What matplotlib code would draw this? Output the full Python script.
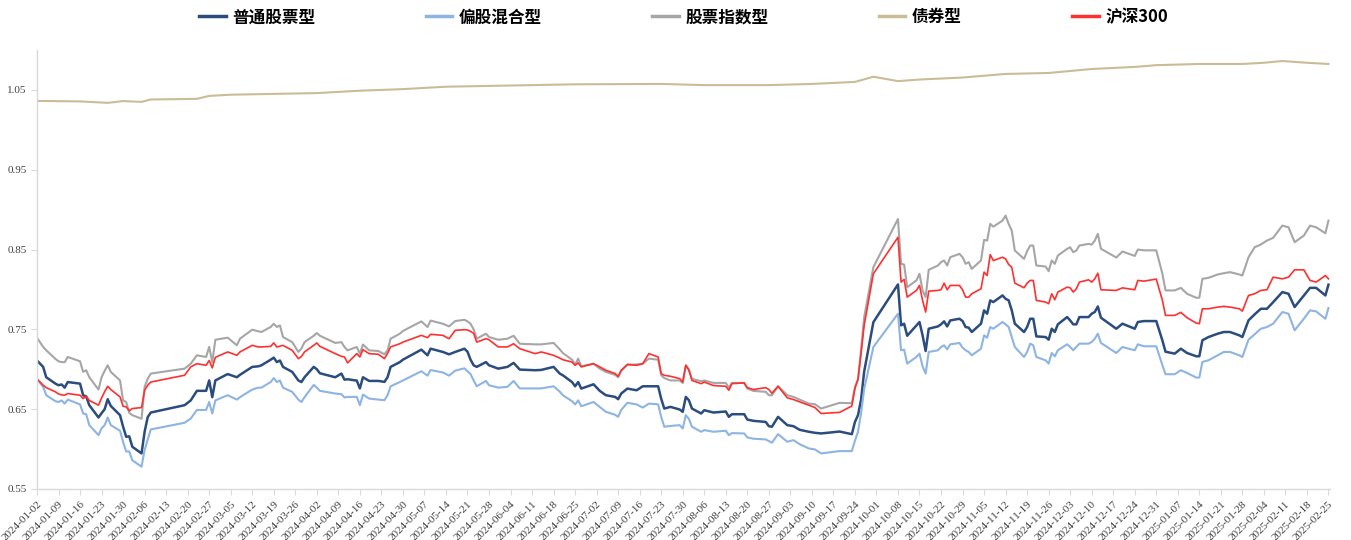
import matplotlib
matplotlib.use("Agg")
import matplotlib.pyplot as plt
import matplotlib.dates as mdates
import pandas as pd

plt.rcParams['font.family'] = ['Noto Sans CJK SC', 'DejaVu Sans']

# trading dates sampled for the four equity-style series
dates = [
    # 2024-01
    "2024-01-02", "2024-01-04", "2024-01-05", "2024-01-08", "2024-01-09", "2024-01-10", "2024-01-11",
    "2024-01-12", "2024-01-16", "2024-01-17", "2024-01-18", "2024-01-19", "2024-01-22", "2024-01-23",
    "2024-01-24", "2024-01-25", "2024-01-26", "2024-01-29", "2024-01-30", "2024-01-31",
    # 2024-02
    "2024-02-01", "2024-02-02", "2024-02-05", "2024-02-06", "2024-02-07", "2024-02-08", "2024-02-19",
    "2024-02-21", "2024-02-23", "2024-02-26", "2024-02-27", "2024-02-28", "2024-02-29",
    # 2024-03
    "2024-03-04", "2024-03-07", "2024-03-08", "2024-03-12", "2024-03-14", "2024-03-15", "2024-03-18",
    "2024-03-19", "2024-03-20", "2024-03-21", "2024-03-22", "2024-03-25", "2024-03-27", "2024-03-28",
    "2024-03-29",
    # 2024-04
    "2024-04-01", "2024-04-02", "2024-04-03", "2024-04-08", "2024-04-10", "2024-04-11", "2024-04-12",
    "2024-04-15", "2024-04-16", "2024-04-17", "2024-04-19", "2024-04-22", "2024-04-24", "2024-04-25",
    "2024-04-26", "2024-04-29", "2024-04-30",
    # 2024-05
    "2024-05-06", "2024-05-08", "2024-05-09", "2024-05-13", "2024-05-15", "2024-05-17", "2024-05-20",
    "2024-05-21", "2024-05-22", "2024-05-23", "2024-05-24", "2024-05-27", "2024-05-28", "2024-05-31",
    # 2024-06
    "2024-06-03", "2024-06-05", "2024-06-07", "2024-06-12", "2024-06-14", "2024-06-18", "2024-06-20",
    "2024-06-21", "2024-06-24", "2024-06-25", "2024-06-26", "2024-06-27",
    # 2024-07
    "2024-07-01", "2024-07-03", "2024-07-05", "2024-07-08", "2024-07-09", "2024-07-10", "2024-07-12",
    "2024-07-15", "2024-07-17", "2024-07-19", "2024-07-22", "2024-07-23", "2024-07-24", "2024-07-26",
    "2024-07-29", "2024-07-30", "2024-07-31",
    # 2024-08
    "2024-08-01", "2024-08-02", "2024-08-05", "2024-08-06", "2024-08-09", "2024-08-13", "2024-08-14",
    "2024-08-15", "2024-08-19", "2024-08-20", "2024-08-22", "2024-08-26", "2024-08-27", "2024-08-28",
    "2024-08-30",
    # 2024-09
    "2024-09-02", "2024-09-04", "2024-09-06", "2024-09-09", "2024-09-11", "2024-09-13", "2024-09-19",
    "2024-09-23", "2024-09-24", "2024-09-25", "2024-09-26", "2024-09-27", "2024-09-30",
    # 2024-10
    "2024-10-08", "2024-10-09", "2024-10-10", "2024-10-11", "2024-10-14", "2024-10-15", "2024-10-16",
    "2024-10-17", "2024-10-18", "2024-10-21", "2024-10-22", "2024-10-23", "2024-10-24", "2024-10-25",
    "2024-10-28", "2024-10-29", "2024-10-30", "2024-10-31",
    # 2024-11
    "2024-11-01", "2024-11-04", "2024-11-05", "2024-11-06", "2024-11-07", "2024-11-08", "2024-11-11",
    "2024-11-12", "2024-11-13", "2024-11-14", "2024-11-15", "2024-11-18", "2024-11-19", "2024-11-20",
    "2024-11-21", "2024-11-22", "2024-11-25", "2024-11-26", "2024-11-27", "2024-11-28", "2024-11-29",
    # 2024-12
    "2024-12-02", "2024-12-03", "2024-12-04", "2024-12-05", "2024-12-06", "2024-12-09", "2024-12-10",
    "2024-12-11", "2024-12-12", "2024-12-13", "2024-12-18", "2024-12-20", "2024-12-24", "2024-12-25",
    "2024-12-27", "2024-12-31",
    # 2025-01
    "2025-01-02", "2025-01-03", "2025-01-06", "2025-01-08", "2025-01-10", "2025-01-13", "2025-01-14",
    "2025-01-15", "2025-01-17", "2025-01-20", "2025-01-22", "2025-01-24", "2025-01-27", "2025-01-28",
    "2025-01-30",
    # 2025-02
    "2025-02-01", "2025-02-03", "2025-02-05", "2025-02-07", "2025-02-10", "2025-02-12", "2025-02-14",
    "2025-02-17", "2025-02-19", "2025-02-21", "2025-02-24", "2025-02-25",
]

# 普通股票型
stock_fund = [
    .711, .703, .690, .682, .680, .681, .677, .684, .682, .6675, .666, .655, .6396, .645, .650, .6625, .654, .6425, .628, .6154,
    .616, .6029, .5946, .6217, .640, .6458, .655, .661, .673, .673, .686, .665, .686,
    .694, .690, .693, .703, .7037, .705, .712, .7146, .709, .711, .703, .6967, .686, .684, .690,
    .703, .700, .695, .690, .6946, .687, .6875, .6858, .676, .690, .6854, .6854, .6842, .690, .703, .709, .712,
    .7246, .7175, .7258, .7217, .7187, .7217, .7258, .722, .712, .705, .703, .709, .705, .7008,
    .703, .708, .6996, .6988, .6992, .703, .6946, .6925, .684, .6787, .684, .6758,
    .6812, .673, .6675, .6654, .6625, .6696, .6758, .6737, .6787, .6787, .6787, .663, .6508, .6529, .6496, .6467, .6654,
    .6612, .6508, .6446, .6487, .6458, .6471, .6404, .6437, .6437, .637, .6354, .634, .6287, .628, .6404,
    .630, .6287, .6242, .6217, .6204, .6196, .622, .6187, .634, .6425, .662, .697, .759,
    .8063, .755, .7571, .742, .755, .7592, .7425, .7229, .7508, .7537, .7563, .760, .7537, .7612, .7633, .7604, .7529, .7521,
    .7467, .7571, .7738, .7696, .7863, .7842, .7925, .7883, .7863, .7738, .7571, .7467, .7529, .7633, .7633, .7412, .7404, .7371, .7508, .7467, .7563,
    .7654, .7612, .7563, .7563, .7654, .7654, .7696, .7717, .7787, .7646, .7508, .7571, .7508, .7592, .7604, .7604,
    .736, .722, .7196, .7258, .7204, .7163, .7163, .7363, .7404, .7446, .7467, .7467, .7425, .7404, .7613,
    .7688, .7758, .7758, .784, .7967, .7946, .778, .7925, .802, .802, .7925, .806,
]

# 偏股混合型
mixed_fund = [
    .6875, .678, .6675, .660, .659, .661, .657, .662, .656, .6446, .6437, .630, .6175, .626, .630, .6396, .630, .623, .609, .597,
    .597, .586, .578, .599, .612, .6246, .633, .6383, .649, .649, .659, .6446, .661,
    .6675, .662, .665, .6746, .677, .677, .684, .689, .684, .686, .677, .6717, .662, .659, .665,
    .6804, .677, .673, .6696, .6688, .6646, .6654, .6654, .655, .6683, .6633, .662, .6612, .6675, .6787, .684, .686,
    .6975, .692, .699, .696, .692, .6983, .7012, .6975, .694, .686, .6787, .6854, .680, .677,
    .678, .6854, .676, .676, .676, .6787, .672, .6675, .660, .656, .661, .6537,
    .659, .6529, .6467, .643, .6404, .649, .658, .656, .652, .657, .656, .6404, .628, .629, .630, .6258, .6425,
    .638, .628, .6217, .6238, .6217, .623, .6175, .620, .6196, .6146, .613, .6121, .610, .608, .6187,
    .6092, .6112, .6062, .6008, .5996, .5946, .5975, .5975, .6104, .6217, .645, .675, .7279,
    .7696, .7238, .7246, .7071, .7154, .7196, .7037, .6946, .7217, .7238, .7279, .730, .725, .7313, .7329, .7271, .7238, .7217,
    .7175, .7258, .7425, .7396, .7529, .7508, .7592, .7563, .7529, .7404, .7279, .7154, .7217, .7321, .730, .7154, .7112, .7071, .7204, .7162, .7238,
    .7313, .7279, .7238, .7279, .7321, .7321, .7342, .7383, .7446, .733, .7204, .7279, .7238, .7313, .7288, .7288,
    .705, .6938, .6938, .6988, .6954, .6896, .6896, .7092, .7113, .7175, .7217, .7217, .7175, .7154, .7371,
    .7438, .7508, .7529, .7571, .7717, .7696, .7488, .7633, .7738, .7725, .7633, .7767,
]

# 股票指数型
index_fund = [
    .7396, .728, .7238, .713, .710, .709, .7088, .7154, .710, .6967, .6988, .690, .6746, .690, .698, .705, .6967, .686, .661, .659,
    .6454, .6425, .638, .678, .688, .6946, .7008, .707, .7175, .7154, .728, .709, .737,
    .7396, .730, .7383, .7496, .7475, .7467, .753, .757, .753, .755, .7404, .734, .7217, .726, .734,
    .742, .7454, .742, .733, .734, .7279, .7237, .7279, .7196, .731, .7237, .7229, .7188, .7237, .7383, .7446, .748,
    .760, .7529, .761, .757, .7537, .7604, .762, .760, .757, .750, .7383, .7446, .7404, .737,
    .7383, .742, .732, .7312, .7312, .733, .725, .7204, .712, .706, .7133, .7037,
    .707, .7008, .6967, .693, .690, .698, .7058, .706, .707, .7133, .712, .6925, .689, .686, .686, .6829, .705,
    .700, .688, .685, .686, .6829, .6829, .6771, .6829, .6829, .6758, .6729, .6717, .6675, .6675, .6787,
    .6675, .6654, .662, .657, .6562, .6508, .6579, .6575, .6775, .6875, .725, .765, .828,
    .8883, .8321, .8312, .8029, .8113, .8196, .7988, .7904, .8246, .830, .8342, .8363, .830, .8404, .8446, .8404, .8321, .8342,
    .8258, .8363, .8621, .8612, .8821, .8787, .8862, .8925, .8821, .8738, .8488, .8383, .8479, .855, .855, .830, .8287, .8229, .8363, .8321, .8425,
    .8508, .8529, .8467, .8488, .855, .8571, .8562, .8612, .8696, .851, .840, .8475, .842, .850, .849, .849,
    .8196, .7988, .7988, .802, .7946, .7896, .7896, .8133, .8146, .8188, .8204, .8217, .8188, .8175, .8404,
    .8529, .8563, .8613, .8646, .880, .8779, .8592, .8675, .880, .8779, .8704, .8863,
]

# 沪深300
csi300 = [
    .688, .680, .677, .6717, .669, .668, .6675, .6696, .6675, .6633, .6662, .661, .655, .664, .672, .6787, .6746, .6654, .6537, .6529,
    .648, .6508, .652, .6737, .680, .684, .6925, .703, .707, .705, .711, .7017, .715,
    .7217, .7175, .7217, .730, .7279, .728, .7287, .733, .7279, .729, .730, .7237, .7133, .716, .7217,
    .730, .733, .7287, .7196, .7162, .7154, .708, .7196, .7154, .7246, .7196, .7188, .7133, .720, .728, .732, .734,
    .7425, .7396, .7438, .7425, .7383, .7488, .7496, .7492, .7475, .745, .734, .7383, .737, .728,
    .728, .732, .7258, .7196, .7217, .7175, .714, .712, .709, .705, .708, .703,
    .707, .703, .6988, .6946, .6912, .6988, .706, .705, .707, .7196, .7154, .6946, .6925, .6912, .6883, .684, .705,
    .6988, .686, .682, .684, .6796, .6787, .6737, .682, .683, .677, .6746, .677, .6746, .670, .6787,
    .6642, .6621, .6592, .655, .652, .6446, .646, .654, .676, .6875, .720, .755, .8196,
    .8654, .8092, .8125, .7904, .7988, .805, .7863, .7717, .7979, .7988, .7996, .8079, .7996, .805, .805, .7996, .7904, .7904,
    .7946, .8008, .8217, .8175, .8437, .8362, .8404, .8383, .8312, .8279, .8079, .8021, .8079, .8113, .8113, .7863, .7842, .7821, .7946, .7871, .7967,
    .8029, .8021, .7967, .8008, .8092, .8121, .8092, .8133, .8204, .7996, .7988, .802, .7996, .8113, .8104, .813,
    .7863, .7675, .7675, .7713, .7646, .7579, .7571, .7758, .7758, .7779, .7788, .7779, .7758, .7729, .7925,
    .7946, .7988, .7996, .8154, .8133, .8154, .8246, .8246, .8113, .8092, .8175, .8133,
]

# 债券型 moves slowly, so fewer points are enough
bond_dates = [
    "2024-01-02", "2024-01-16", "2024-01-25", "2024-01-30", "2024-02-05", "2024-02-08", "2024-02-23",
    "2024-02-27", "2024-03-05", "2024-03-19", "2024-04-02", "2024-04-16", "2024-04-30", "2024-05-14",
    "2024-05-28", "2024-06-25", "2024-07-23", "2024-08-06", "2024-08-27", "2024-09-10", "2024-09-24",
    "2024-09-30", "2024-10-08", "2024-10-15", "2024-10-29", "2024-11-12", "2024-11-26", "2024-12-10",
    "2024-12-24", "2024-12-31", "2025-01-14", "2025-01-28", "2025-02-04", "2025-02-10", "2025-02-18",
    "2025-02-25",
]
bond_fund = [
    1.0362, 1.0356, 1.0338, 1.036, 1.035, 1.038, 1.0388,
    1.0425, 1.044, 1.045, 1.046, 1.049, 1.051, 1.054,
    1.055, 1.057, 1.0575, 1.056, 1.056, 1.0575, 1.060,
    1.0665, 1.061, 1.063, 1.0655, 1.070, 1.0712, 1.0762,
    1.0788, 1.081, 1.0825, 1.0825, 1.084, 1.0862, 1.084,
    1.0825,
]

names = ["普通股票型", "偏股混合型", "股票指数型", "债券型", "沪深300"]
colors = ["#2B4C7E", "#8DB4E2", "#A6A6A6", "#C9BC96", "#FF3030"]
widths = [1.8, 1.5, 1.5, 1.5, 1.2]

x = pd.to_datetime(dates)
xb = pd.to_datetime(bond_dates)

fig = plt.figure(figsize=(13.51, 5.40), dpi=100)
ax = fig.add_axes([37 / 1351, 51 / 540, 1293 / 1351, 439 / 540])

series = [(x, stock_fund), (x, mixed_fund), (x, index_fund), (xb, bond_fund), (x, csi300)]
handles = []
for (xs, ys), name, c, w in zip(series, names, colors, widths):
    line, = ax.plot(xs, ys, color=c, lw=w, label=name, solid_joinstyle="round")
    handles.append(line)

ax.set_xlim(pd.Timestamp("2024-01-02"), pd.Timestamp("2025-02-25 12:00"))
ax.set_ylim(0.55, 1.10)
ax.set_yticks([0.55, 0.65, 0.75, 0.85, 0.95, 1.05])
ax.yaxis.set_major_formatter(plt.FuncFormatter(lambda v, _: f"{v:.2f}"))

ticks = pd.date_range("2024-01-02", "2025-02-25", freq="7D")
ax.set_xticks(ticks)
ax.xaxis.set_major_formatter(mdates.DateFormatter("%Y-%m-%d"))

for s in ["top", "right"]:
    ax.spines[s].set_visible(False)
for s in ["left", "bottom"]:
    ax.spines[s].set_color("#D9D9D9")
    ax.spines[s].set_linewidth(1.0)

ax.tick_params(axis="both", colors="#D9D9D9", length=4, width=0.8, labelcolor="#404040")
for lab in ax.get_yticklabels():
    lab.set_fontfamily("Liberation Serif")
    lab.set_fontsize(8)
for lab in ax.get_xticklabels():
    lab.set_fontfamily("Liberation Serif")
    lab.set_fontsize(8)
    lab.set_rotation(45)
    lab.set_ha("right")
    lab.set_va("top")
    lab.set_rotation_mode("anchor")

leg = fig.legend(handles, names, loc="center", bbox_to_anchor=(0.506, 0.968), ncol=5, frameon=False,
                 prop={"family": ["Noto Sans CJK SC", "DejaVu Sans"], "weight": "bold", "size": 12},
                 handlelength=1.6, handletextpad=0.4, columnspacing=6.6)
for h in leg.get_lines():
    h.set_linewidth(2.5)

fig.savefig("out.png", dpi=100)
